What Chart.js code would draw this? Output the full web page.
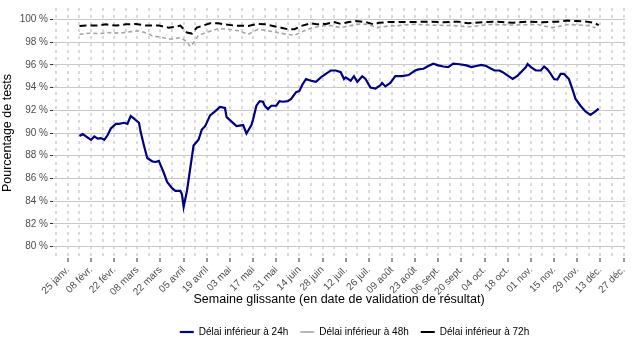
<!DOCTYPE html>
<html>
<head>
<meta charset="utf-8">
<script src="https://cdn.jsdelivr.net/npm/chart.js@4/dist/chart.umd.min.js"></script>
<style>
  html, body { margin: 0; padding: 0; background: #fff; }
  #wrap { width: 634px; height: 352px; }
</style>
</head>
<body>
<div id="wrap"><canvas id="myChart"></canvas></div>
<script>
// x = days since 25 janv., one label every 14 days
const tickLabels = ['25 janv.', '08 févr.', '22 févr.', '08 mars', '22 mars', '05 avril', '19 avril',
  '03 mai', '17 mai', '31 mai', '14 juin', '28 juin', '12 juil.', '26 juil.', '09 août', '23 août',
  '06 sept.', '20 sept.', '04 oct.', '18 oct.', '01 nov.', '15 nov.', '29 nov.', '13 déc.', '27 déc.'];
const yTicks = [80, 82, 84, 86, 88, 90, 92, 94, 96, 98, 100];

const days24 = [7, 9, 12, 14, 16, 18, 20, 22, 24, 26, 29, 31, 34, 36, 38, 40, 43, 44, 46, 48, 51, 53, 55, 56, 58, 60,
  63, 65, 68, 69, 70, 72, 74, 76, 79, 81, 83, 86, 89, 92, 95, 96, 99, 102, 106, 108, 111, 112, 114, 116, 118, 119,
  121, 123, 126, 128, 130, 133, 135, 138, 140, 142, 144, 147, 150, 153, 156, 159, 162, 165, 167, 168, 171, 173, 175,
  178, 180, 183, 186, 189, 190, 192, 195, 198, 202, 206, 210, 212, 215, 218, 221, 224, 227, 230, 233, 237, 241, 244,
  247, 250, 253, 256, 258, 261, 263, 266, 269, 272, 275, 277, 278, 280, 283, 286, 288, 290, 292, 294, 296, 298, 300,
  303, 305, 307, 310, 313, 316, 319, 321];
const pct24 = [89.73, 89.9, 89.6, 89.4, 89.7, 89.5, 89.55, 89.4, 89.8, 90.4, 90.8, 90.8, 90.9, 90.8, 91.5, 91.27, 90.9,
  90.1, 88.9, 87.8, 87.5, 87.45, 87.55, 87.2, 86.5, 85.7, 85.15, 84.9, 84.9, 84.6, 83.5, 84.9, 86.9, 88.9, 89.4, 90.3,
  90.6, 91.55, 91.9, 92.3, 92.2, 91.4, 91.0, 90.6, 90.7, 89.95, 90.7, 91.2, 92.4, 92.8, 92.75, 92.4, 92.1, 92.4, 92.4,
  92.8, 92.75, 92.8, 93.0, 93.6, 93.7, 94.3, 94.75, 94.6, 94.5, 94.9, 95.2, 95.5, 95.5, 95.35, 94.75, 94.9, 94.6, 95.0,
  94.5, 95.0, 94.75, 94.0, 93.9, 94.2, 94.4, 94.1, 94.4, 95.0, 95.0, 95.1, 95.5, 95.6, 95.65, 95.9, 96.1, 95.95, 95.85,
  95.8, 96.1, 96.05, 95.95, 95.8, 95.9, 96.0, 95.9, 95.65, 95.5, 95.5, 95.35, 95.05, 94.75, 95.05, 95.5, 95.8, 96.07,
  95.8, 95.5, 95.5, 95.85, 95.6, 95.2, 94.75, 94.7, 95.2, 95.2, 94.75, 93.9, 93.0, 92.4, 91.9, 91.6, 91.9, 92.15];

const days48 = [7, 13, 19, 25, 31, 37, 43, 48, 51, 57, 63, 68, 72, 74, 76, 79, 85, 91, 97, 103, 109, 115, 121, 127,
  132, 137, 143, 148, 153, 159, 165, 171, 177, 181, 187, 194, 200, 208, 212, 219, 233, 243, 255, 270, 284, 293, 303,
  315, 319];
const pct48 = [98.69, 98.78, 98.75, 98.84, 98.78, 98.9, 98.98, 98.78, 98.55, 98.4, 98.25, 98.4, 98.03, 97.6, 97.95,
  98.6, 98.9, 99.19, 99.13, 99.0, 98.69, 99.13, 99.0, 98.84, 98.69, 98.6, 99.0, 99.27, 99.42, 99.45, 99.27, 99.45,
  99.6, 99.56, 99.27, 99.42, 99.45, 99.56, 99.55, 99.5, 99.45, 99.35, 99.55, 99.5, 99.55, 99.27, 99.55, 99.45, 99.27];

const days72 = [7, 11, 17, 23, 29, 35, 41, 47, 55, 61, 65, 68, 72, 75, 78, 81, 86, 91, 95, 101, 109, 115, 119, 124,
  129, 133, 137, 141, 147, 151, 156, 161, 165, 170, 174, 180, 185, 188, 194, 201, 210, 218, 227, 236, 242, 251, 260,
  269, 278, 287, 296, 302, 308, 314, 318, 321];
const pct72 = [99.42, 99.45, 99.45, 99.56, 99.45, 99.56, 99.6, 99.45, 99.45, 99.27, 99.35, 99.45, 98.84, 98.75, 99.27,
  99.42, 99.65, 99.65, 99.56, 99.45, 99.42, 99.6, 99.56, 99.42, 99.27, 99.13, 99.13, 99.42, 99.65, 99.56, 99.6, 99.77,
  99.6, 99.77, 99.85, 99.77, 99.56, 99.7, 99.77, 99.77, 99.77, 99.8, 99.75, 99.8, 99.65, 99.75, 99.8, 99.7, 99.8,
  99.75, 99.8, 99.9, 99.85, 99.8, 99.7, 99.5];

const toPoints = (days, pct) => days.map((d, i) => ({x: d, y: pct[i]}));
const FONT = '"Liberation Sans", Arial, sans-serif';

// ggplot-like legend: centre it a bit right of the canvas middle
const legendShift = {
  id: 'legendShift',
  afterLayout(chart) {
    chart.legend.left += 40;
    chart.legend.right += 40;
  }
};

const data = {
  datasets: [
    {label: 'Délai inférieur à 24h', data: toPoints(days24, pct24), borderColor: '#000080', borderWidth: 2.2},
    {label: 'Délai inférieur à 48h', data: toPoints(days48, pct48), borderColor: '#a6a6a6', borderWidth: 1.6, borderDash: [4, 3]},
    {label: 'Délai inférieur à 72h', data: toPoints(days72, pct72), borderColor: '#000000', borderWidth: 2, borderDash: [7, 4]}
  ]
};

const config = {
  type: 'line',
  data: data,
  options: {
    responsive: true,
    maintainAspectRatio: false,
    animation: false,
    layout: {padding: {left: 0, right: 5, top: 5, bottom: 5}},
    elements: {point: {radius: 0}, line: {tension: 0, fill: false}},
    scales: {
      x: {
        type: 'linear', min: -9, max: 337,
        afterBuildTicks: scale => {
          scale.ticks = [];
          for (let d = -7; d <= 336; d += 7) scale.ticks.push({value: d});
        },
        afterFit: scale => { scale.height = 57; },
        ticks: {
          autoSkip: false, maxRotation: 45, minRotation: 45, padding: 2,
          color: '#4d4d4d', font: {family: FONT, size: 10},
          callback: v => (v >= 0 && v % 14 === 0) ? tickLabels[v / 14] : ''
        },
        grid: {
          color: '#dadada', lineWidth: 2, tickLength: 4, tickWidth: 1,
          tickColor: ctx => (ctx.tick && ctx.tick.value >= 0 && ctx.tick.value % 14 === 0) ? '#333333' : 'rgba(0,0,0,0)'
        },
        border: {display: false, dash: [3, 4]},
        title: {display: true, text: 'Semaine glissante (en date de validation de résultat)', color: '#000',
          font: {family: FONT, size: 12.5}, padding: {top: 2, bottom: 8}}
      },
      y: {
        min: 79, max: 101,
        afterBuildTicks: scale => { scale.ticks = yTicks.map(v => ({value: v})); },
        afterFit: scale => { scale.width = 53; },
        ticks: {color: '#4d4d4d', font: {family: FONT, size: 10}, padding: 2, callback: v => v + ' %'},
        grid: {color: '#c8c8c8', lineWidth: 1, tickLength: 3, tickColor: '#333333'},
        border: {display: false},
        title: {display: true, text: 'Pourcentage de tests', color: '#000',
          font: {family: FONT, size: 12.5}, padding: {top: 0, bottom: 4}}
      }
    },
    plugins: {
      legend: {
        position: 'bottom',
        labels: {
          usePointStyle: true, pointStyle: 'line', pointStyleWidth: 14,
          color: '#000', font: {family: FONT, size: 10}, padding: 12
        }
      },
      tooltip: {enabled: false}
    }
  },
  plugins: [legendShift]
};

const myChart = new Chart(document.getElementById('myChart'), config);
</script>
</body>
</html>
